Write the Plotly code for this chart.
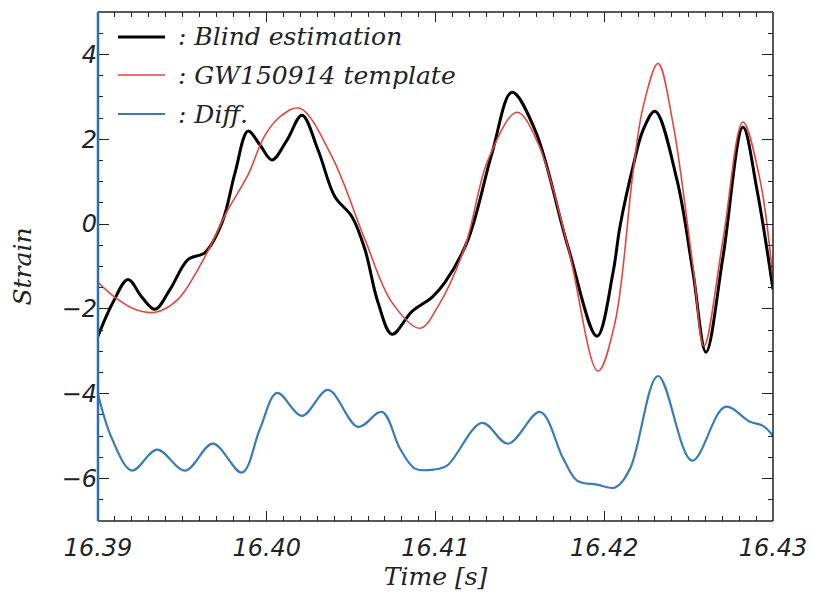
import plotly.graph_objects as go

# ---- data ----
t_blind = [16.39000, 16.39089, 16.39178, 16.39261, 16.39338, 16.39427, 16.39533, 16.39634,
           16.39735, 16.39812, 16.39889, 16.39960, 16.40031, 16.40120, 16.40209, 16.40304,
           16.40404, 16.40505, 16.40582, 16.40659, 16.40742, 16.40861, 16.40979, 16.41056,
           16.41193, 16.41335, 16.41453, 16.41590, 16.41785, 16.41957, 16.42052, 16.42093,
           16.42170, 16.42230, 16.42301, 16.42431, 16.42526, 16.42603, 16.42704, 16.42822,
           16.42905, 16.43000]
v_blind = [-2.643, -1.845, -1.305, -1.728, -2.009, -1.540, -0.836, -0.671,
           0.033, 1.207, 2.192, 1.864, 1.512, 1.981, 2.568, 1.746,
           0.643, 0.174, -0.601, -1.845, -2.596, -2.056, -1.728, -1.376,
           -0.366, 1.676, 3.108, 2.216, -0.531, -2.643, -1.141, -0.061,
           1.347, 2.216, 2.662, 1.042, -1.141, -3.019, -0.765, 2.286,
           0.808, -1.540]

t_tmpl = [16.39000, 16.39101, 16.39219, 16.39338, 16.39474, 16.39634, 16.39770, 16.39889,
          16.39990, 16.40090, 16.40197, 16.40387, 16.40582, 16.40742, 16.40908, 16.41015,
          16.41175, 16.41311, 16.41483, 16.41607, 16.41785, 16.41963, 16.42064, 16.42170,
          16.42230, 16.42319, 16.42407, 16.42526, 16.42591, 16.42704, 16.42822, 16.42923,
          16.43000]
v_tmpl = [-1.376, -1.728, -2.009, -2.080, -1.775, -0.765, 0.338, 1.160,
          2.099, 2.568, 2.732, 1.582, -0.366, -1.845, -2.455, -1.939,
          -0.531, 1.512, 2.638, 1.911, -0.531, -3.465, -2.315, 1.207,
          2.756, 3.789, 2.380, -1.000, -2.878, -0.366, 2.404, 1.042,
          -1.305]

t_diff = [16.39000, 16.39083, 16.39201, 16.39350, 16.39516, 16.39681, 16.39853, 16.39960,
          16.40061, 16.40209, 16.40363, 16.40541, 16.40683, 16.40790, 16.40879, 16.40985,
          16.41068, 16.41276, 16.41430, 16.41619, 16.41757, 16.41839, 16.41957, 16.42064,
          16.42153, 16.42319, 16.42520, 16.42716, 16.42864, 16.42941, 16.43000]
v_diff = [-4.005, -5.061, -5.812, -5.319, -5.812, -5.178, -5.859, -4.826,
          -3.981, -4.521, -3.911, -4.779, -4.427, -5.296, -5.765, -5.789,
          -5.695, -4.685, -5.178, -4.427, -5.530, -6.047, -6.141, -6.211,
          -5.765, -3.582, -5.577, -4.310, -4.662, -4.756, -4.991]

series_names = [": Blind estimation", ": GW150914 template", ": Diff."]
series_colors = ["#000000", "#e5453d", "#3a7cb8"]
series_widths = [3, 1.6, 2.2]

x_range = [16.39, 16.43]
y_range = [-7, 5]

# ---- figure ----
W, H = 814, 593
ML, MR, MT, MB = 98, 41, 12, 72
pw, ph = W - ML - MR, H - MT - MB

fig = go.Figure()
for t, v, c, w in zip([t_blind, t_tmpl, t_diff], [v_blind, v_tmpl, v_diff],
                      series_colors, series_widths):
    fig.add_trace(go.Scatter(x=t, y=v, mode="lines", showlegend=False,
                             line=dict(color=c, width=w, shape="spline", smoothing=1.0)))

tickfont = dict(family="DejaVu Sans", size=24, color="#222", style="italic")
serif = dict(family="DejaVu Serif", size=25, color="#222", style="italic")
legfont = dict(family="DejaVu Serif", size=25, color="#222", style="italic")

fig.update_layout(
    width=W, height=H,
    margin=dict(l=ML, r=MR, t=MT, b=MB, autoexpand=False),
    paper_bgcolor="white", plot_bgcolor="white",
    xaxis=dict(range=x_range, tick0=16.39, dtick=0.01, tickformat=".2f",
               automargin=False,
               ticks="inside", ticklen=10, tickwidth=1.3, tickcolor="#222",
               mirror="ticks", showline=False, showgrid=False, zeroline=False,
               minor=dict(ticks="inside", dtick=0.001, ticklen=5, tickwidth=1.1,
                          tickcolor="#222", showgrid=False),
               tickfont=tickfont, ticklabelstandoff=10,
               title=dict(text="Time [s]", font=serif, standoff=5)),
    yaxis=dict(range=y_range, tick0=0, dtick=2,
               automargin=False,
               ticks="inside", ticklen=11, tickwidth=1.3, tickcolor="#222",
               mirror="ticks", showline=False, showgrid=False, zeroline=False,
               minor=dict(ticks="inside", dtick=0.5, ticklen=5, tickwidth=1.1,
                          tickcolor="#222", showgrid=False),
               tickfont=tickfont,
               title=dict(text="Strain", font=serif, standoff=22)),
)

# frame
shapes = [
    dict(type="line", xref="paper", yref="paper", x0=0, x1=1, y0=1, y1=1,
         line=dict(color="#222", width=1.5)),
    dict(type="line", xref="paper", yref="paper", x0=1, x1=1, y0=0, y1=1,
         line=dict(color="#222", width=1.5)),
    dict(type="line", xref="paper", yref="paper", x0=0, x1=1, y0=0, y1=0,
         line=dict(color="#222", width=1.5)),
    dict(type="line", xref="paper", yref="paper", x0=0, x1=0, y0=0, y1=1,
         line=dict(color="#2b6fae", width=2.5)),
]

# legend drawn manually
leg_y_px = [37, 75, 114]
annotations = []
for name, c, w, ypx in zip(series_names, series_colors, series_widths, leg_y_px):
    yp = (H - MB - ypx) / ph
    shapes.append(dict(type="line", xref="paper", yref="paper",
                       x0=(118 - ML) / pw, x1=(165 - ML) / pw, y0=yp, y1=yp,
                       line=dict(color=c, width=w)))
    annotations.append(dict(xref="paper", yref="paper", x=(176 - ML) / pw, y=yp,
                            xanchor="left", yanchor="middle", showarrow=False,
                            text=name, font=legfont))

fig.update_layout(shapes=shapes, annotations=annotations)
fig.write_html("out.html")
